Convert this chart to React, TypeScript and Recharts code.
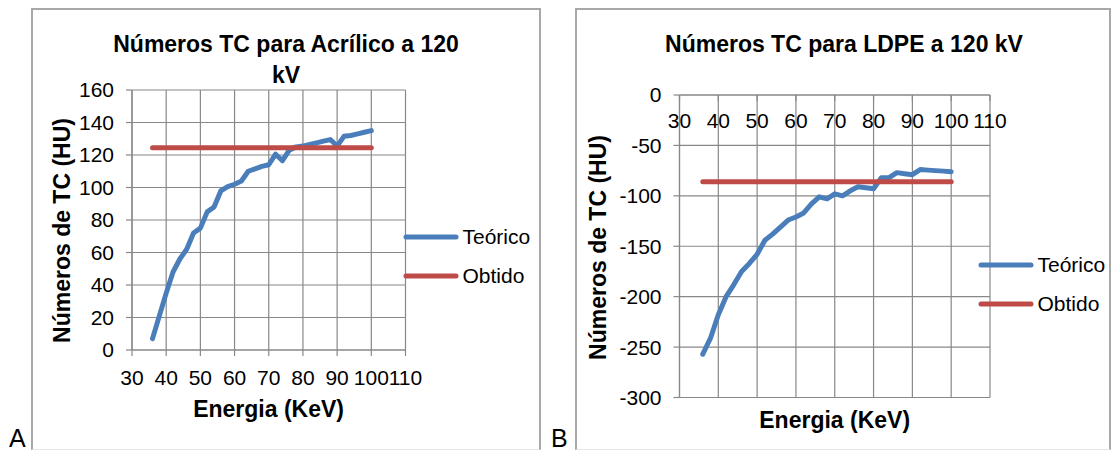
import { LineChart, Line, XAxis, YAxis, CartesianGrid, Legend } from "recharts";

const FONT = '"Liberation Sans", Arial, sans-serif';
const BLUE = "#4A7EBB";
const RED = "#BE4B48";
const GRID = "#888888";

// energia (keV) das curvas teóricas
const energia = [
  36, 38, 40, 42, 44, 46, 48, 50, 52, 54, 56, 58, 60, 62, 64, 66, 68, 70, 72,
  74, 76, 78, 80, 82, 84, 86, 88, 90, 92, 94, 96, 98, 100,
];
const teoricoAcrilico = [
  7, 21, 35, 48, 56, 62, 72, 75, 85, 88, 98, 100.5, 102, 104, 110, 111.5, 113,
  114, 120.5, 116.5, 123, 125, 125.5, 126.5, 127.5, 128.5, 129.5, 125.5, 131.5,
  132, 133, 134, 135,
];
const teoricoLdpe = [
  -257, -241, -218, -200, -188, -175, -167, -158, -144, -138, -131, -124, -121,
  -117, -108, -101, -103, -98, -100, -95, -91, -92, -93, -82, -82, -77, -78,
  -79, -74, -74.5, -75, -75.5, -76,
];

// valor medido (constante)
const energiaObtido = [36, 100];
const obtidoAcrilico = [124.5, 124.5];
const obtidoLdpe = [-86, -86];

const ticksEnergia = [30, 40, 50, 60, 70, 80, 90, 100, 110];
const ticksAcrilico = [0, 20, 40, 60, 80, 100, 120, 140, 160];
const ticksLdpe = [-300, -250, -200, -150, -100, -50, 0];

const legendOrder = ["Teórico", "Obtido"];

const toRows = (xs: number[], ys: number[]) =>
  ys.map((y, i) => ({ x: xs[i], y }));

function LegendBox({ payload }: any) {
  const items = [...(payload || [])].sort(
    (a: any, b: any) => legendOrder.indexOf(a.value) - legendOrder.indexOf(b.value)
  );
  return (
    <div style={{ fontFamily: FONT, fontSize: 21, color: "#000" }}>
      {items.map((p: any) => (
        <div
          key={p.value}
          style={{ display: "flex", alignItems: "center", height: 39 }}
        >
          <svg width={56} height={8} style={{ display: "block" }}>
            <line
              x1={3}
              y1={4}
              x2={53}
              y2={4}
              stroke={p.color}
              strokeWidth={5}
              strokeLinecap="round"
            />
          </svg>
          <span style={{ marginLeft: 4 }}>{p.value}</span>
        </div>
      ))}
    </div>
  );
}

type PanelProps = {
  left: number;
  width: number;
  margin: { top: number; right: number; bottom: number; left: number };
  yWidth: number;
  yDomain: [number, number];
  yTicks: number[];
  teorico: number[];
  obtido: number[];
  xOnTop: boolean;
  legendPos: { left: number; top: number };
};

function Panel(p: PanelProps) {
  const tickStyle = { fontSize: 21, fill: "#000", fontFamily: FONT };
  return (
    <div style={{ position: "absolute", left: p.left, top: 0 }}>
      <LineChart width={p.width} height={452} margin={p.margin}>
        <CartesianGrid stroke={GRID} strokeWidth={1.2} />
        <XAxis
          type="number"
          dataKey="x"
          domain={[30, 110]}
          ticks={ticksEnergia}
          interval={0}
          orientation={p.xOnTop ? "top" : "bottom"}
          mirror={p.xOnTop}
          height={40}
          tick={tickStyle}
          tickSize={6}
          tickMargin={p.xOnTop ? 12 : 14}
          axisLine={{ stroke: GRID, strokeWidth: 1.2 }}
          tickLine={{ stroke: GRID, strokeWidth: 1.2 }}
        />
        <YAxis
          type="number"
          domain={p.yDomain}
          ticks={p.yTicks}
          interval={0}
          width={p.yWidth}
          tick={tickStyle}
          tickSize={6}
          tickMargin={12}
          axisLine={{ stroke: GRID, strokeWidth: 1.2 }}
          tickLine={{ stroke: GRID, strokeWidth: 1.2 }}
        />
        <Legend
          layout="vertical"
          align="center"
          verticalAlign="middle"
          content={LegendBox}
          wrapperStyle={{ left: p.legendPos.left, top: p.legendPos.top, width: 140 }}
        />
        <Line
          data={toRows(energia, p.teorico)}
          dataKey="y"
          name="Teórico"
          type="linear"
          stroke={BLUE}
          strokeWidth={5}
          strokeLinecap="round"
          strokeLinejoin="round"
          dot={false}
          activeDot={false}
          isAnimationActive={false}
        />
        <Line
          data={toRows(energiaObtido, p.obtido)}
          dataKey="y"
          name="Obtido"
          type="linear"
          stroke={RED}
          strokeWidth={5}
          strokeLinecap="round"
          dot={false}
          activeDot={false}
          isAnimationActive={false}
        />
      </LineChart>
    </div>
  );
}

const text = (
  s: string,
  cx: number,
  baseline: number,
  w: number,
  extra: React.CSSProperties = {}
) => (
  <div
    style={{
      position: "absolute",
      left: cx - w / 2,
      top: baseline - 23.5,
      width: w,
      textAlign: "center",
      fontFamily: FONT,
      fontSize: 23,
      fontWeight: "bold",
      lineHeight: "31px",
      color: "#000",
      ...extra,
    }}
  >
    {s}
  </div>
);

const vertical = (s: string, cx: number, cy: number) => (
  <div
    style={{
      position: "absolute",
      left: cx - 150,
      top: cy - 15.5,
      width: 300,
      height: 31,
      textAlign: "center",
      fontFamily: FONT,
      fontSize: 23,
      fontWeight: "bold",
      lineHeight: "31px",
      color: "#000",
      whiteSpace: "nowrap",
      transform: "rotate(-90deg)",
    }}
  >
    {s}
  </div>
);

const box = (l: number, r: number) => (
  <div
    style={{
      position: "absolute",
      left: l,
      top: 8,
      width: r - l,
      height: 442,
      borderLeft: "2px solid #a8a8a8",
      borderRight: "2px solid #a8a8a8",
      borderTop: "2px solid #a8a8a8",
      borderBottom: "1px solid #e6e6e6",
      boxSizing: "border-box",
    }}
  />
);

const letter = (s: string, left: number) => (
  <div
    style={{
      position: "absolute",
      left,
      top: 426,
      fontFamily: FONT,
      fontSize: 25,
      lineHeight: "25px",
      color: "#000",
    }}
  >
    {s}
  </div>
);

export default function App() {
  return (
    <div
      style={{
        position: "absolute",
        left: 0,
        top: 0,
        width: 1112,
        height: 452,
        background: "#fff",
        overflow: "hidden",
      }}
    >
      {box(31, 541)}
      {box(575, 1111)}
      <Panel
        left={0}
        width={540}
        margin={{ top: 90, right: 134.5, bottom: 62, left: 0 }}
        yWidth={132}
        yDomain={[0, 160]}
        yTicks={ticksAcrilico}
        teorico={teoricoAcrilico}
        obtido={obtidoAcrilico}
        xOnTop={false}
        legendPos={{ left: 402.5, top: 217 }}
      />
      <Panel
        left={560}
        width={552}
        margin={{ top: 95, right: 122, bottom: 54.5, left: 0 }}
        yWidth={119.5}
        yDomain={[-300, 0]}
        yTicks={ticksLdpe}
        teorico={teoricoLdpe}
        obtido={obtidoLdpe}
        xOnTop={true}
        legendPos={{ left: 417.5, top: 245.5 }}
      />
      {text("Números TC para Acrílico a 120 kV", 286, 52, 360)}
      {text("Números TC para LDPE a 120 kV", 844, 52, 500)}
      {text("Energia (KeV)", 268.6, 417, 300)}
      {text("Energia (KeV)", 834.7, 428, 300)}
      {vertical("Números de TC (HU)", 62, 230)}
      {vertical("Números de TC (HU)", 598, 247)}
      {letter("A", 9)}
      {letter("B", 551)}
    </div>
  );
}
